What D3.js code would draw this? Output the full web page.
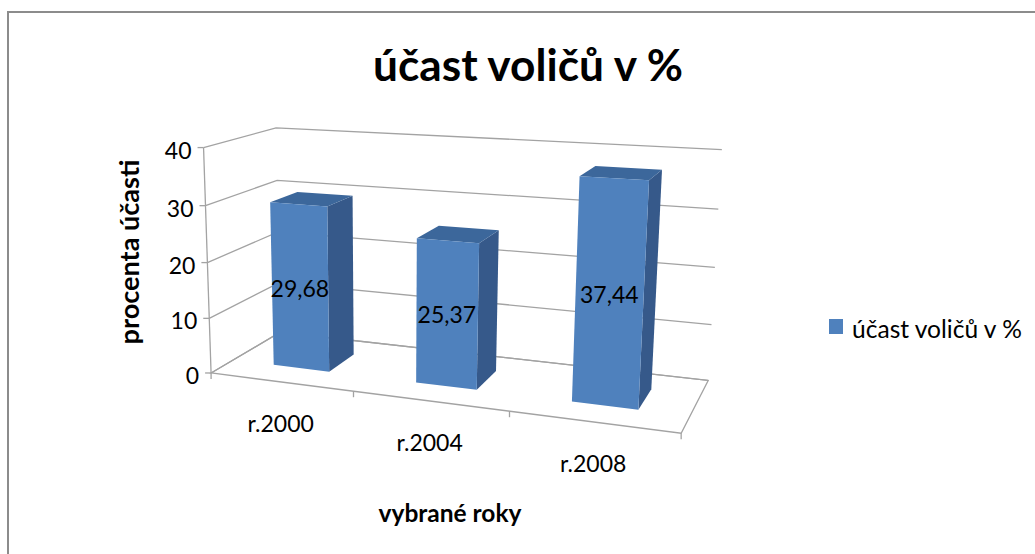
<!DOCTYPE html>
<html>
<head>
<meta charset="utf-8">
<script src="https://cdn.jsdelivr.net/npm/d3@7"></script>
<style>
  body { margin: 0; background: #fff; }
  text { font-family: Lato, "Open Sans", sans-serif; fill: #000; }
</style>
</head>
<body>
<div id="chart"></div>
<script>
// 1: DATA
const years = ["r.2000", "r.2004", "r.2008"];
const turnout = [29.68, 25.37, 37.44];
const valueLabels = ["29,68", "25,37", "37,44"];
const yTicks = [0, 10, 20, 30, 40];
const seriesName = "účast voličů v %";

// 2: SVG
const W = 1035, H = 554;
const svg = d3.select("#chart").append("svg")
    .attr("width", W)
    .attr("height", H);

svg.append("rect")
    .attr("x", 8).attr("y", 12)
    .attr("width", 1100).attr("height", 600)
    .attr("fill", "#fff")
    .attr("stroke", "#8c8c8c")
    .attr("stroke-width", 2);

// 3: CAMERA - perspective fitted to the box corners of the plot (X,Y,Z in 0..1)
const calib = [
    [0, 0, 0, 213.3, 371.7], [0, 1, 0, 201.7, 148.3],
    [0, 0, 1, 278, 335], [0, 1, 1, 278, 127],
    [1, 0, 1, 708.3, 378.3], [1, 1, 1, 721.7, 150.7],
    [1, 0, 0, 681.7, 434], [1 / 3, 0, 0, 353.3, 391.7], [2 / 3, 0, 0, 508.3, 413.3],
    [1, 0.75, 1, 718.3, 210], [1, 0.5, 1, 715, 266.7], [1, 0.25, 1, 711.7, 323.3],
    [0, 0.25, 0, 210.4, 316.7], [0, 0.5, 0, 207.5, 261.7], [0, 0.75, 0, 204.6, 205.7]
];
const cx = 450, cy = 300, sc = 250;

function fitCamera(pts) {
    const n = 11;
    const M = d3.range(n).map(() => d3.range(n + 1).map(() => 0));
    const addRow = (row, rhs) => {
        for (let i = 0; i < n; i++) {
            for (let j = 0; j < n; j++) M[i][j] += row[i] * row[j];
            M[i][n] += row[i] * rhs;
        }
    };
    pts.forEach(([X, Y, Z, u, v]) => {
        const un = (u - cx) / sc, vn = (v - cy) / sc;
        addRow([X, Y, Z, 1, 0, 0, 0, 0, -un * X, -un * Y, -un * Z], un);
        addRow([0, 0, 0, 0, X, Y, Z, 1, -vn * X, -vn * Y, -vn * Z], vn);
    });
    for (let c = 0; c < n; c++) {
        let p = c;
        for (let r = c + 1; r < n; r++) if (Math.abs(M[r][c]) > Math.abs(M[p][c])) p = r;
        [M[c], M[p]] = [M[p], M[c]];
        for (let r = 0; r < n; r++) {
            if (r === c) continue;
            const f = M[r][c] / M[c][c];
            for (let k = c; k <= n; k++) M[r][k] -= f * M[c][k];
        }
    }
    return d3.range(n).map(i => M[i][n] / M[i][i]);
}
const P = fitCamera(calib);

function project(X, Y, Z) {
    const w = P[8] * X + P[9] * Y + P[10] * Z + 1;
    const un = (P[0] * X + P[1] * Y + P[2] * Z + P[3]) / w;
    const vn = (P[4] * X + P[5] * Y + P[6] * Z + P[7]) / w;
    return [un * sc + cx, vn * sc + cy];
}
const poly = pts => "M" + pts.map(p => project(...p).join(",")).join("L") + "Z";

// 4: SCALES (world units)
const xScale = d3.scaleBand()
    .domain(years)
    .range([0, 1])
    .paddingInner(0.6)
    .paddingOuter(0.3);
const yScale = d3.scaleLinear().domain([0, 40]).range([0, 1]);
const zFront = 0.3, zBack = 0.7;

// 5: WALLS AND GRID
const gridColor = "#a3a3a3";
const grid = svg.append("g")
    .attr("fill", "none")
    .attr("stroke", gridColor)
    .attr("stroke-width", 1.3);

grid.selectAll("path.gl")
    .data(yTicks)
    .enter().append("path")
    .attr("class", "gl")
    .attr("d", d => {
        const y = yScale(d);
        return "M" + [project(0, y, 0), project(0, y, 1), project(1, y, 1)].map(p => p.join(",")).join("L");
    });

// floor outline
grid.append("path")
    .attr("d", poly([[0, 0, 0], [1, 0, 0], [1, 0, 1], [0, 0, 1]]));

// vertical axis line
grid.append("path")
    .attr("d", "M" + project(0, 0, 0).join(",") + "L" + project(0, 1, 0).join(","));

// y ticks
grid.selectAll("path.yt")
    .data(yTicks)
    .enter().append("path")
    .attr("class", "yt")
    .attr("d", d => {
        const [x, y] = project(0, yScale(d), 0);
        return `M${x - 6},${y}L${x},${y}`;
    });

// x ticks at category boundaries
const xBounds = [0, 1 / 3, 2 / 3, 1];
grid.selectAll("path.xt")
    .data(xBounds)
    .enter().append("path")
    .attr("class", "xt")
    .attr("d", d => {
        const [x, y] = project(d, 0, 0);
        return `M${x},${y}L${x},${y + 6}`;
    });

// y tick labels
svg.selectAll("text.ylab")
    .data(yTicks)
    .enter().append("text")
    .attr("class", "ylab")
    .attr("x", d => project(0, yScale(d), 0)[0] - 12)
    .attr("y", d => project(0, yScale(d), 0)[1] + 2)
    .attr("text-anchor", "end")
    .attr("dominant-baseline", "central")
    .style("font-size", "23px")
    .text(d => d);

// x tick labels
svg.selectAll("text.xlab")
    .data(years)
    .enter().append("text")
    .attr("class", "xlab")
    .attr("x", d => project(xScale(d) + xScale.bandwidth() / 2, 0, 0)[0])
    .attr("y", d => project(xScale(d) + xScale.bandwidth() / 2, 0, 0)[1] + 41)
    .attr("text-anchor", "middle")
    .attr("dominant-baseline", "central")
    .style("font-size", "23px")
    .text(d => d);

// 6: BARS
const bars = svg.selectAll("g.bar")
    .data(years.map((yr, i) => ({ yr, v: turnout[i], label: valueLabels[i] })))
    .enter().append("g")
    .attr("class", "bar");

const x0 = d => xScale(d.yr), x1 = d => xScale(d.yr) + xScale.bandwidth(), h = d => yScale(d.v);

bars.append("path")
    .attr("fill", "#36598a")
    .attr("d", d => poly([[x1(d), 0, zFront], [x1(d), 0, zBack], [x1(d), h(d), zBack], [x1(d), h(d), zFront]]));
bars.append("path")
    .attr("fill", "#3c679b")
    .attr("d", d => poly([[x0(d), h(d), zFront], [x1(d), h(d), zFront], [x1(d), h(d), zBack], [x0(d), h(d), zBack]]));
bars.append("path")
    .attr("fill", "#4f81bd")
    .attr("d", d => poly([[x0(d), 0, zFront], [x1(d), 0, zFront], [x1(d), h(d), zFront], [x0(d), h(d), zFront]]));

bars.append("text")
    .attr("x", d => project((x0(d) + x1(d)) / 2, h(d) / 2, zFront)[0])
    .attr("y", d => project((x0(d) + x1(d)) / 2, h(d) / 2, zFront)[1])
    .attr("text-anchor", "middle")
    .attr("dominant-baseline", "central")
    .style("font-size", "23px")
    .text(d => d.label);

// 7: TITLES AND LEGEND
function fitWidth(sel, w) {
    const len = sel.node().getComputedTextLength();
    const fs = parseFloat(sel.style("font-size"));
    sel.style("font-size", (fs * w / len) + "px");
    return sel;
}

const title = svg.append("text")
    .attr("x", 528).attr("y", 63)
    .attr("text-anchor", "middle")
    .attr("dominant-baseline", "central")
    .style("font-size", "36px")
    .style("font-weight", "bold")
    .text(seriesName);
fitWidth(title, 310);

const yTitle = svg.append("text")
    .attr("transform", "translate(128,252) rotate(-90)")
    .attr("text-anchor", "middle")
    .attr("dominant-baseline", "central")
    .style("font-size", "20px")
    .style("font-weight", "bold")
    .text("procenta účasti");
fitWidth(yTitle, 185);

const xTitle = svg.append("text")
    .attr("x", 450).attr("y", 512)
    .attr("text-anchor", "middle")
    .attr("dominant-baseline", "central")
    .style("font-size", "20px")
    .style("font-weight", "bold")
    .text("vybrané roky");
fitWidth(xTitle, 143);

const legend = svg.append("g");
legend.append("rect")
    .attr("x", 829).attr("y", 319)
    .attr("width", 14).attr("height", 15)
    .attr("fill", "#4f81bd");
const legText = legend.append("text")
    .attr("x", 852).attr("y", 328)
    .attr("dominant-baseline", "central")
    .style("font-size", "22px")
    .text(seriesName);
fitWidth(legText, 170);
</script>
</body>
</html>
